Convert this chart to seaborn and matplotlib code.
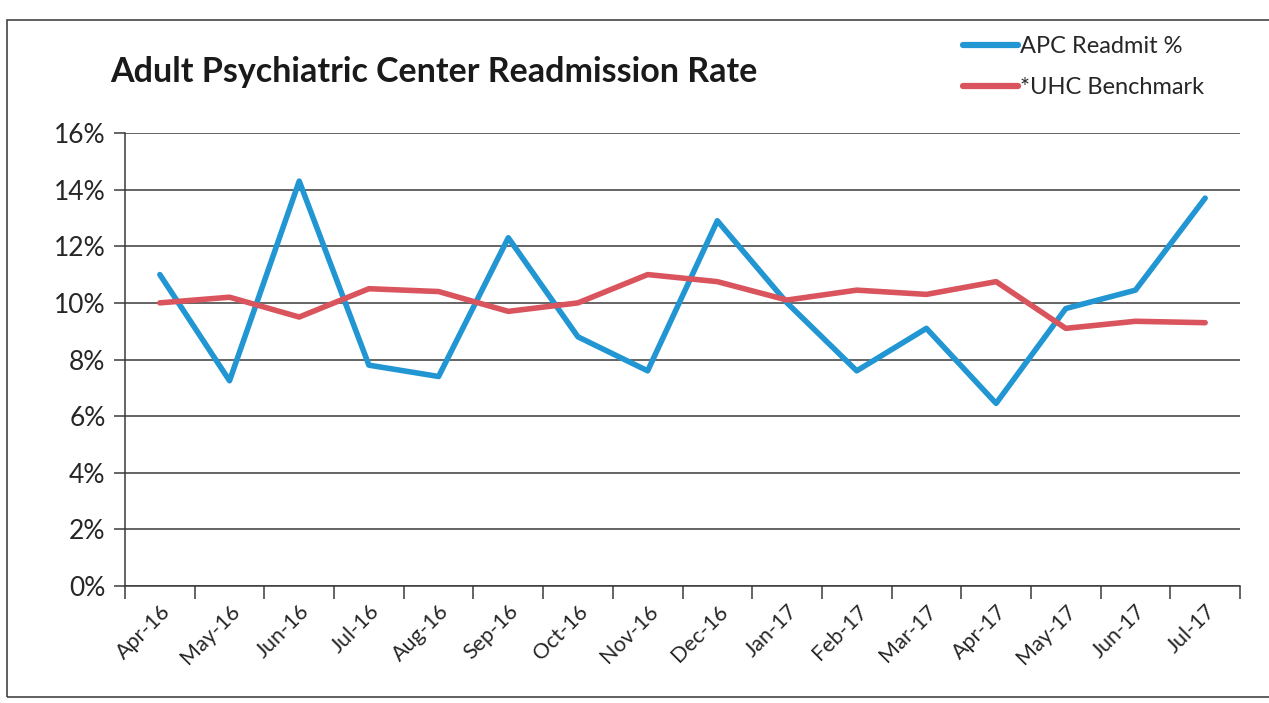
import pandas as pd
import matplotlib.pyplot as plt
import seaborn as sns
from matplotlib.patches import Rectangle
from matplotlib.ticker import FixedLocator, PercentFormatter

# Values (percent)
months = ["Apr-16", "May-16", "Jun-16", "Jul-16", "Aug-16", "Sep-16", "Oct-16", "Nov-16",
          "Dec-16", "Jan-17", "Feb-17", "Mar-17", "Apr-17", "May-17", "Jun-17", "Jul-17"]
apc_readmit = [11.0, 7.25, 14.3, 7.8, 7.4, 12.3, 8.8, 7.6,
               12.9, 10.0, 7.6, 9.1, 6.45, 9.8, 10.45, 13.7]
uhc_benchmark = [10.0, 10.2, 9.5, 10.5, 10.4, 9.7, 10.0, 11.0,
                 10.75, 10.1, 10.45, 10.3, 10.75, 9.1, 9.35, 9.3]

series_names = ["APC Readmit %", "*UHC Benchmark"]
colors = ["#2196d3", "#d9545c"]

df = pd.DataFrame({
    "month": months * 2,
    "rate": apc_readmit + uhc_benchmark,
    "series": [series_names[0]] * len(months) + [series_names[1]] * len(months),
})

sns.set_style("white")
plt.rcParams["font.family"] = ["Lato", "DejaVu Sans"]

fig = plt.figure(figsize=(12.69, 7.03), dpi=100)
ax = fig.add_axes([125 / 1269, 1 - 586 / 703, 1115 / 1269, 453 / 703])

sns.lineplot(data=df, x="month", y="rate", hue="series", palette=colors,
             linewidth=4, sort=False, ax=ax, legend=False)

ax.set_xlim(-0.5, len(months) - 0.5)
ax.set_ylim(0, 16)
ax.set_yticks(range(0, 17, 2))
ax.yaxis.set_major_formatter(PercentFormatter(decimals=0))
ax.grid(axis="y", color="#3a3a3a", linewidth=1.1)
ax.set_axisbelow(True)

ax.set_xticks(range(len(months)))
ax.set_xticklabels(months, rotation=45, ha="right", rotation_mode="anchor", fontsize=15.5)
ax.xaxis.set_minor_locator(FixedLocator([i - 0.5 for i in range(len(months) + 1)]))
ax.tick_params(axis="x", which="major", length=0, pad=11)
ax.tick_params(axis="x", which="minor", length=9, width=1.1, color="#3a3a3a", direction="out", bottom=True)
ax.tick_params(axis="y", length=8, width=1.1, color="#3a3a3a", direction="out", left=True,
               labelsize=19, pad=6)
ax.set_xlabel("")
ax.set_ylabel("")

for side in ["top", "right"]:
    ax.spines[side].set_visible(False)
for side in ["left", "bottom"]:
    ax.spines[side].set_color("#3a3a3a")
    ax.spines[side].set_linewidth(1.1)

# title and legend sit outside the plot area, like the Excel chart
fig.text(110 / 1269, 1 - 72 / 703, "Adult Psychiatric Center Readmission Rate",
         fontsize=24.5, fontweight="bold", va="center", ha="left", color="#1a1a1a")

handles = [plt.Line2D([], [], color=c, linewidth=4.5) for c in colors]
fig.legend(handles, series_names, loc="upper left", bbox_to_anchor=(942 / 1269, 1 - 15 / 703),
           frameon=False, fontsize=17, handlelength=2.3, handletextpad=0.1, labelspacing=0.85)

# chart border from the scan
fig.patches.append(Rectangle((7 / 1269, 6 / 703), 1.2, 1 - 26 / 703, transform=fig.transFigure,
                             fill=False, edgecolor="#444444", linewidth=1.2))

plt.savefig("out.png", dpi=100)
